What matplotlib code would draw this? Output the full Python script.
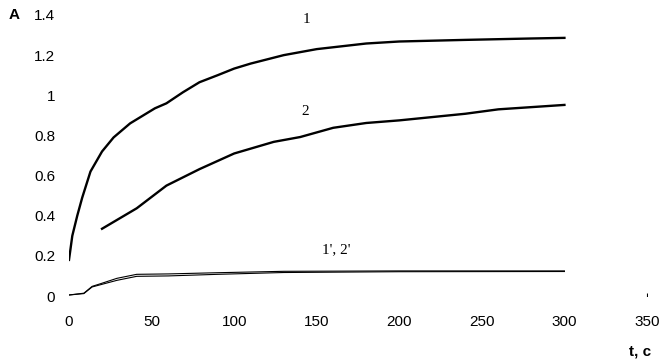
import matplotlib
matplotlib.use('Agg')
import matplotlib.pyplot as plt

# curve 1
t1 = [0, 2, 5, 8, 13, 20, 27, 37, 45, 52, 59, 69, 79, 90, 100, 110, 130, 150, 180, 200, 240, 280, 300]
a1 = [0.18, 0.30, 0.40, 0.49, 0.62, 0.72, 0.79, 0.86, 0.90, 0.935, 0.96, 1.015, 1.065, 1.10, 1.133,
      1.158, 1.20, 1.23, 1.258, 1.268, 1.276, 1.283, 1.286]
# curve 2
t2 = [20, 41, 59, 79, 100, 124, 140, 160, 180, 200, 240, 260, 300]
a2 = [0.335, 0.437, 0.55, 0.632, 0.71, 0.768, 0.792, 0.838, 0.862, 0.875, 0.908, 0.93, 0.952]
# curves 1' and 2'
t1p = [0, 9, 14, 19, 29, 41, 60, 90, 130, 200, 300]
a1p = [0.005, 0.012, 0.045, 0.056, 0.078, 0.098, 0.100, 0.108, 0.117, 0.121, 0.122]
a2p = [0.005, 0.014, 0.048, 0.061, 0.088, 0.108, 0.110, 0.116, 0.123, 0.125, 0.125]

xticks = [0, 50, 100, 150, 200, 250, 300, 350]
yticks = [0, 0.2, 0.4, 0.6, 0.8, 1.0, 1.2, 1.4]
ylabels = ['0', '0.2', '0.4', '0.6', '0.8', '1', '1.2', '1.4']

plt.rcParams['font.family'] = 'Liberation Sans'

fig = plt.figure(figsize=(6.63, 3.63), dpi=100)
ax = fig.add_axes([69 / 663, 67 / 363, 578 / 663, 281 / 363])

ax.plot(t1, a1, color='black', lw=1.7)
ax.plot(t2, a2, color='black', lw=1.7)
ax.plot(t1p, a1p, color='black', lw=0.8)
ax.plot(t1p, a2p, color='black', lw=0.8)
# stray tick mark near 350
ax.plot([350], [0], marker='|', color='black', markersize=4, markeredgewidth=0.8)

serif = 'Liberation Serif'
ax.text(143.6, 1.38, '1', family=serif, fontsize=11, ha='center', va='center')
ax.text(143, 0.917, '2', family=serif, fontsize=11, ha='center', va='center')
ax.text(162, 0.23, "1', 2'", family=serif, fontsize=11, ha='center', va='center')

ax.set_xlim(0, 350)
ax.set_ylim(0, 1.4)
ax.set_xticks(xticks)
ax.set_yticks(yticks)
ax.set_yticklabels(ylabels)
ax.tick_params(length=0, labelsize=11)
ax.tick_params(axis='y', pad=10)
ax.tick_params(axis='x', pad=14)
for s in ax.spines.values():
    s.set_visible(False)

fig.text(14 / 663, 1 - 15 / 363, 'A', fontsize=11, fontweight='bold', ha='center', va='center')
fig.text(640 / 663, 1 - 352 / 363, 't, c', fontsize=11, fontweight='bold', ha='center', va='center')

fig.savefig('out.png', dpi=100)
